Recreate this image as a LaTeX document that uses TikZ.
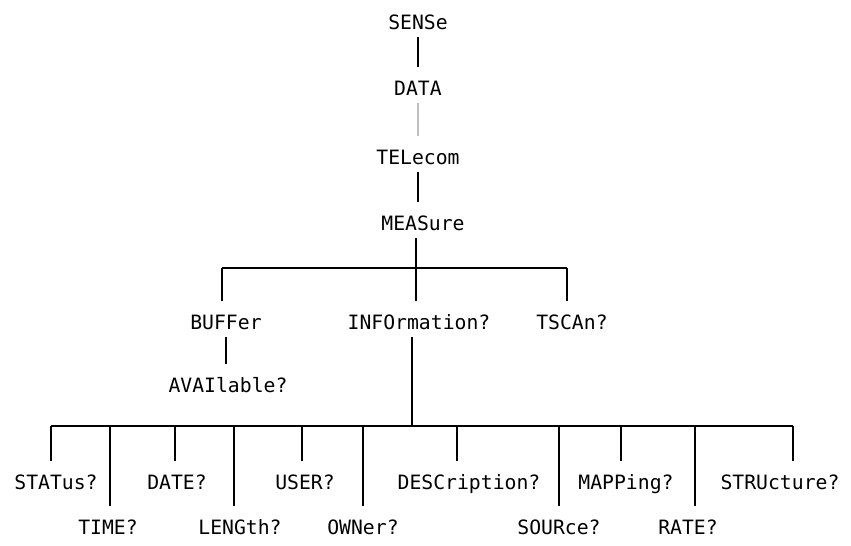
\documentclass[tikz,border=0pt]{standalone}
\usepackage{fontspec}
\newfontfamily\cmdfont{DejaVu Sans Mono}
\begin{document}
\begin{tikzpicture}[x=0.75pt,y=-0.75pt,
  cmd/.style={font=\cmdfont\fontsize{14.8}{18}\selectfont,inner xsep=0pt,inner ysep=0pt,text height=10.5pt,text depth=0pt},
  bar/.style={line width=2pt},
  link/.style={bar,shorten <=6pt,shorten >=10pt},
  stem/.style={bar,shorten <=6pt},
  drop/.style={bar,shorten >=10pt}]
\useasboundingbox (0,0) rectangle (851,546);

\node[cmd] (sense) at (418,22) {SENSe};
\node[cmd] (data) at (418,88) {DATA};
\node[cmd] (tele) at (418,157) {TELecom};
\node[cmd] (meas) at (423,223) {MEASure};

\node[cmd] (buff) at (226,322) {BUFFer};
\node[cmd] (info) at (419,322) {INFOrmation?};
\node[cmd] (tscan) at (572,322) {TSCAn?};
\node[cmd] (avail) at (228,385) {AVAIlable?};

\node[cmd] (stat) at (56,482) {STATus?};
\node[cmd] (time) at (108,527) {TIME?};
\node[cmd] (date) at (177,482) {DATE?};
\node[cmd] (leng) at (240,527) {LENGth?};
\node[cmd] (user) at (305,482) {USER?};
\node[cmd] (own) at (363,527) {OWNer?};
\node[cmd] (desc) at (469,482) {DESCription?};
\node[cmd] (sour) at (559,527) {SOURce?};
\node[cmd] (mapp) at (626,482) {MAPPing?};
\node[cmd] (rate) at (688,527) {RATE?};
\node[cmd] (stru) at (780,482) {STRUcture?};

% chain down to MEASure
\draw[link] (sense) -- (data);
\draw[link,gray!50] (data) -- (tele);
\draw[link] (tele) -- (tele |- meas.north);

% MEASure branches
\coordinate (m) at (416,268);
\coordinate (m-buff) at (222,268);
\coordinate (m-tscan) at (567,268);
\draw[bar] (m-buff) -- (m-tscan);
\draw[link] (m |- meas.south) -- (m |- info.north);
\draw[drop] (m-buff) -- (m-buff |- buff.north);
\draw[drop] (m-tscan) -- (m-tscan |- tscan.north);
\draw[link] (buff.south) -- (buff.south |- avail.north);

% INFOrmation? branches
\coordinate (i) at (412,426);
\coordinate (i-stat) at (51,426);
\coordinate (i-time) at (110,426);
\coordinate (i-date) at (175,426);
\coordinate (i-leng) at (234,426);
\coordinate (i-user) at (302,426);
\coordinate (i-own) at (363,426);
\coordinate (i-desc) at (457,426);
\coordinate (i-sour) at (559,426);
\coordinate (i-mapp) at (621,426);
\coordinate (i-rate) at (695,426);
\coordinate (i-stru) at (793,426);
\draw[stem] (i |- info.south) -- (i);
\draw[bar] (i-stat) -- (i-stru);
\draw[drop] (i-stat) -- (i-stat |- stat.north);
\draw[drop] (i-time) -- (i-time |- time.north);
\draw[drop] (i-date) -- (i-date |- date.north);
\draw[drop] (i-leng) -- (i-leng |- leng.north);
\draw[drop] (i-user) -- (i-user |- user.north);
\draw[drop] (i-own) -- (i-own |- own.north);
\draw[drop] (i-desc) -- (i-desc |- desc.north);
\draw[drop] (i-sour) -- (i-sour |- sour.north);
\draw[drop] (i-mapp) -- (i-mapp |- mapp.north);
\draw[drop] (i-rate) -- (i-rate |- rate.north);
\draw[drop] (i-stru) -- (i-stru |- stru.north);
\end{tikzpicture}
\end{document}
